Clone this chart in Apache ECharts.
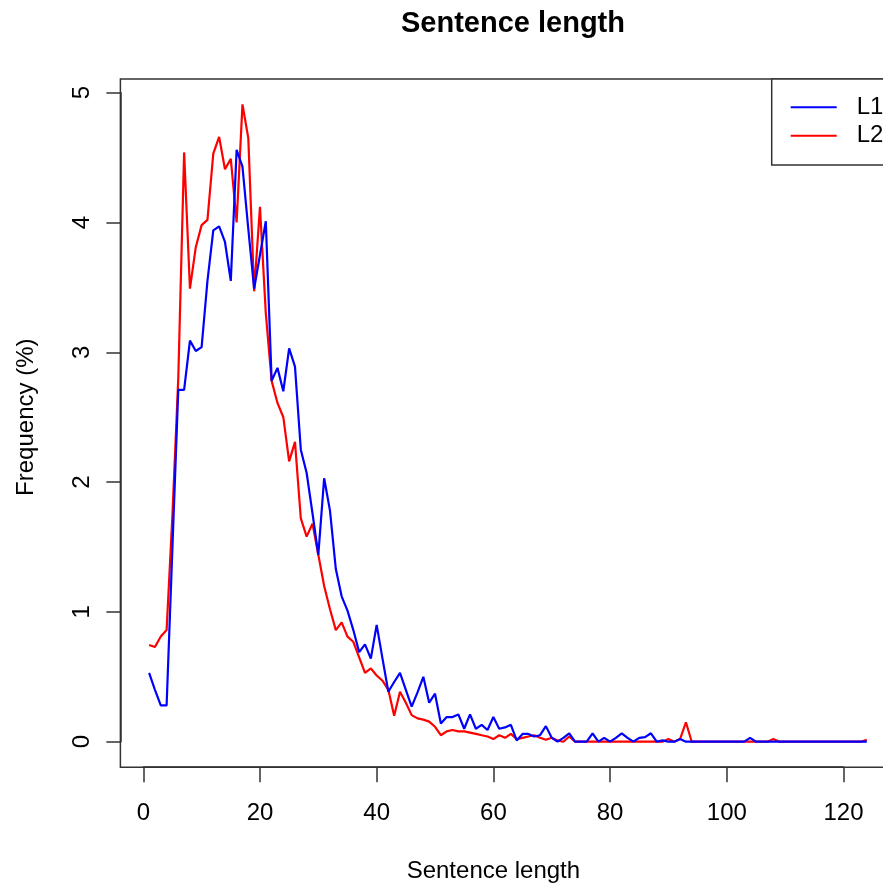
<!DOCTYPE html>
<html><head><meta charset="utf-8">
<script src="https://cdn.jsdelivr.net/npm/echarts@6/dist/echarts.min.js"></script>
<style>html,body{margin:0;padding:0;background:#fff}#c{width:883px;height:886px}</style>
</head><body><div id="c"></div>
<script>
// Sentence lengths (x values)
const sentenceLength = [
  1,2,3,4,5,6,7,8,9,10,11,12,13,14,15,16,17,18,19,20,
  21,22,23,24,25,26,27,28,29,30,31,32,33,34,35,36,37,38,39,40,
  41,42,43,44,45,46,47,48,49,50,51,52,53,54,55,56,57,58,59,60,
  61,62,63,64,65,66,67,68,69,70,71,72,73,74,75,76,77,78,79,80,
  81,82,83,84,85,86,87,88,89,90,91,92,93,94,95,96,97,98,99,100,
  101,102,103,104,105,106,107,108,109,110,111,112,113,114,115,116,117,118,119,120,
  121,122,123,124
];
// Frequency (%) for L1 (blue)
const freqL1 = [
  0.53,0.40,0.28,0.28,1.50,2.71,2.71,3.09,3.01,3.04,3.55,3.94,3.97,3.85,3.55,4.56,4.43,3.95,3.49,3.75,
  4.01,2.78,2.88,2.70,3.03,2.89,2.25,2.07,1.76,1.44,2.03,1.78,1.33,1.12,1.01,0.86,0.69,0.75,0.64,0.90,
  0.64,0.385,0.46,0.53,0.40,0.27,0.38,0.50,0.30,0.37,0.14,0.19,0.19,0.21,0.10,0.21,0.10,0.13,0.09,0.19,
  0.10,0.11,0.13,0.01,0.06,0.06,0.04,0.05,0.12,0.03,0,0.03,0.065,0,0,0,0.065,0,0.03,0,
  0.03,0.065,0.03,0,0.03,0.035,0.065,0,0.01,0,0,0.02,0,0,0,0,0,0,0,0,
  0,0,0,0.03,0,0,0,0,0,0,0,0,0,0,0,0,0,0,0,0,
  0,0,0,0
];
// Frequency (%) for L2 (red)
const freqL2 = [
  0.745,0.73,0.81,0.86,1.75,2.80,4.54,3.49,3.81,3.98,4.02,4.53,4.66,4.41,4.49,4.00,4.91,4.65,3.47,4.12,
  3.30,2.78,2.61,2.50,2.16,2.31,1.72,1.58,1.68,1.44,1.20,1.02,0.86,0.92,0.81,0.77,0.65,0.53,0.565,0.51,
  0.47,0.40,0.20,0.385,0.30,0.205,0.18,0.17,0.155,0.115,0.05,0.08,0.09,0.08,0.08,0.07,0.06,0.05,0.04,0.02,
  0.05,0.03,0.06,0.02,0.03,0.04,0.05,0.03,0.015,0.03,0.01,0,0.04,0,0,0,0,0,0,0,
  0,0,0,0,0,0,0,0,0,0.02,0,0.02,0.15,0,0,0,0,0,0,0,
  0,0,0,0,0,0,0,0.02,0,0,0,0,0,0,0,0,0,0,0,0,
  0,0,0,0.015
];
const xTicks = [0, 20, 40, 60, 80, 100, 120];
const yTicks = [0, 1, 2, 3, 4, 5];

const FONT = "'Liberation Sans', Arial, Helvetica, sans-serif";
const AX = '#333';
const chart = echarts.init(document.getElementById('c'), null, {renderer: 'canvas'});
const pairs = (ys) => sentenceLength.map((x, i) => [x, ys[i]]);

chart.setOption({
  animation: false,
  backgroundColor: '#fff',
  textStyle: {fontFamily: FONT},
  title: {
    text: 'Sentence length', left: 508, top: 4, textAlign: 'center',
    textStyle: {fontSize: 29, fontWeight: 'bold', color: '#000', fontFamily: FONT}
  },
  legend: {
    data: ['L1', 'L2'], orient: 'vertical', left: 771.7, top: 78.9,
    padding: [16.4, 30, 17.3, 19], itemGap: 4.4, itemWidth: 46, itemHeight: 2,
    icon: 'rect', borderColor: AX, borderWidth: 1.5, backgroundColor: '#fff',
    textStyle: {fontSize: 24, lineHeight: 24, color: '#000', fontFamily: FONT, padding: [0, 0, 0, 15]},
    selectedMode: false
  },
  grid: [
    {left: 120.4, top: 78.9, width: 775.1, height: 688.3, show: true, borderColor: AX, borderWidth: 1.5, backgroundColor: 'transparent', outerBoundsMode: 'none', containLabel: false},
    {left: 143.3, top: 78.9, width: 700.2, height: 688.3, outerBoundsMode: 'none', containLabel: false},
    {left: 120.4, top: 92.7, width: 775.1, height: 649, outerBoundsMode: 'none', containLabel: false}
  ],
  xAxis: [
    {gridIndex: 0, type: 'value', min: -3.92, max: 128.92, show: false},
    {gridIndex: 1, type: 'value', position: 'bottom', min: xTicks[0], max: xTicks[xTicks.length - 1], interval: 20,
      axisLine: {show: true, onZero: false, lineStyle: {color: AX, width: 1.5}},
      axisTick: {show: true, length: 15, inside: false, lineStyle: {color: AX, width: 1.5}},
      axisLabel: {show: true, margin: 34, fontSize: 24, color: '#000', fontFamily: FONT},
      splitLine: {show: false},
      name: 'Sentence length', nameLocation: 'middle', nameGap: 92,
      nameTextStyle: {fontSize: 24, color: '#000', fontFamily: FONT}
    },
    {gridIndex: 2, type: 'value', min: -3.92, max: 128.92, show: false}
  ],
  yAxis: [
    {gridIndex: 0, type: 'value', min: -0.1964, max: 5.1064, show: false},
    {gridIndex: 1, type: 'value', min: -0.1964, max: 5.1064, show: false},
    {gridIndex: 2, type: 'value', position: 'left', min: yTicks[0], max: yTicks[yTicks.length - 1], interval: 1,
      axisLine: {show: true, onZero: false, lineStyle: {color: AX, width: 1.5}},
      axisTick: {show: true, length: 14, inside: false, lineStyle: {color: AX, width: 1.5}},
      axisLabel: {show: true, rotate: 90, margin: 26, fontSize: 24, color: '#000', fontFamily: FONT},
      splitLine: {show: false},
      name: 'Frequency (%)', nameLocation: 'middle', nameRotate: 90, nameGap: 82,
      nameTextStyle: {fontSize: 24, color: '#000', fontFamily: FONT}
    }
  ],
  series: [
    {type: 'line', name: 'L2', xAxisIndex: 0, yAxisIndex: 0, data: pairs(freqL2),
      showSymbol: false, symbol: 'none', silent: true,
      lineStyle: {color: '#ff0000', width: 2.2}, itemStyle: {color: '#ff0000'}},
    {type: 'line', name: 'L1', xAxisIndex: 0, yAxisIndex: 0, data: pairs(freqL1),
      showSymbol: false, symbol: 'none', silent: true,
      lineStyle: {color: '#0000ff', width: 2.2}, itemStyle: {color: '#0000ff'}}
  ]
});
</script></body></html>
